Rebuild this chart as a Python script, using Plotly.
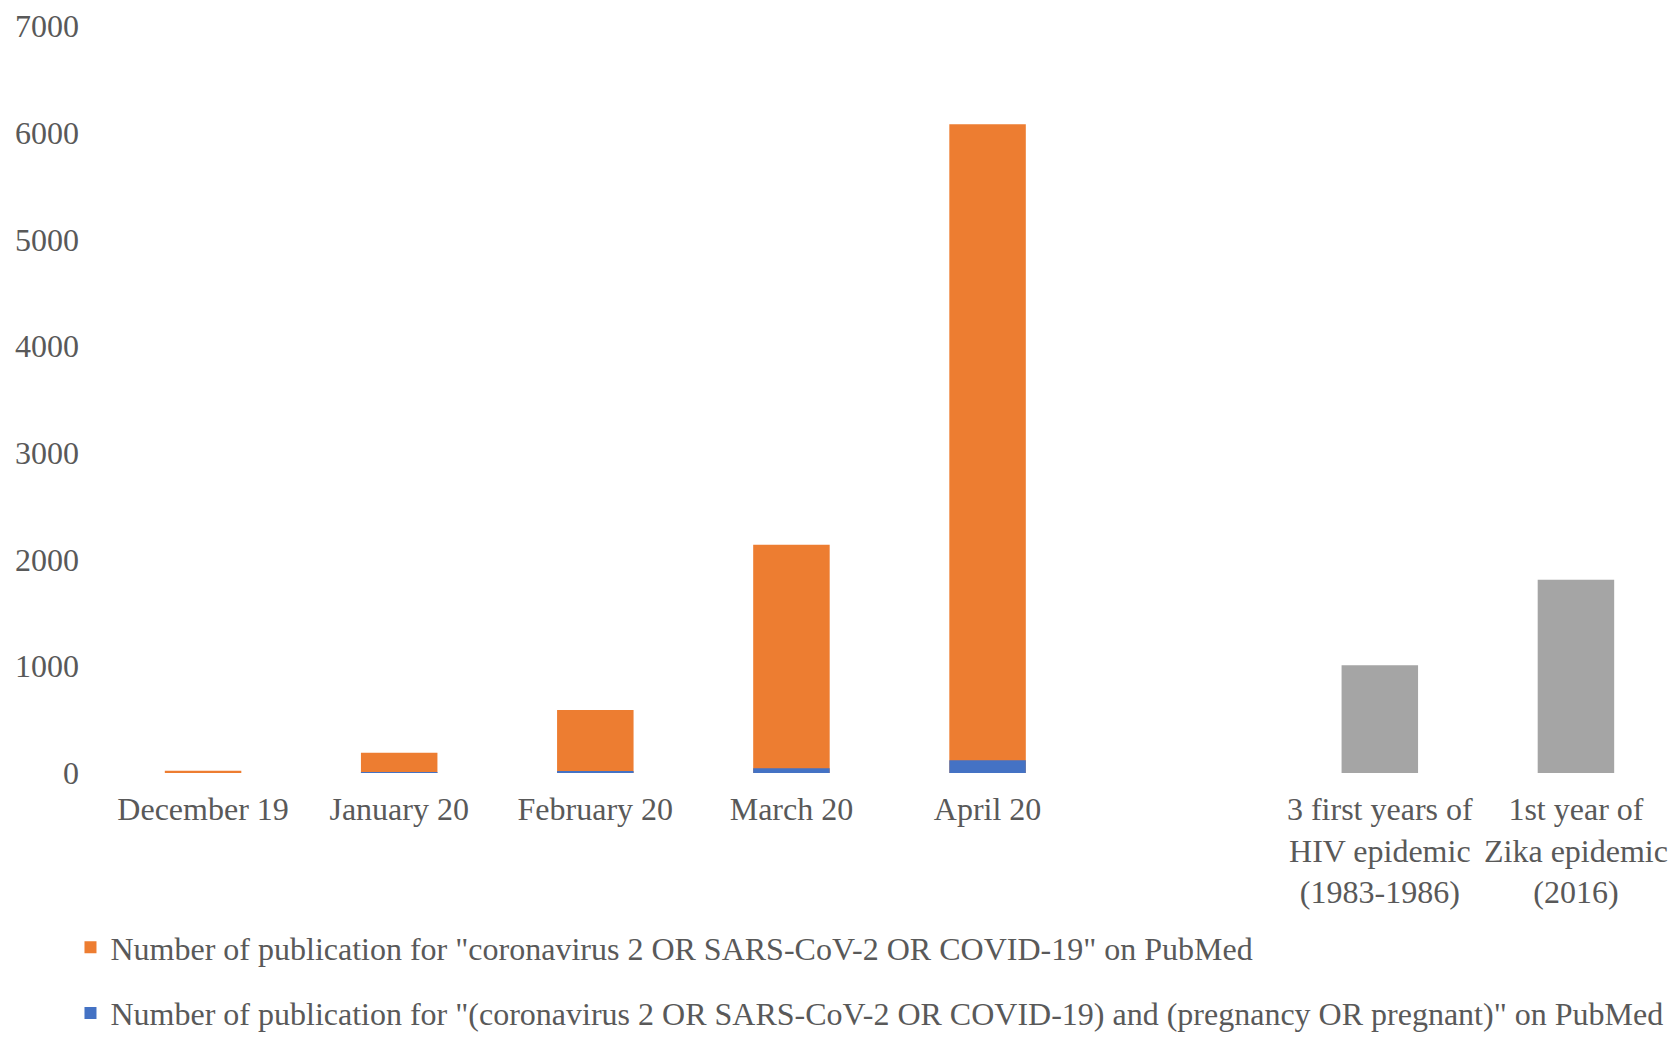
import plotly.graph_objects as go

categories = [
    "December 19", "January 20", "February 20", "March 20", "April 20", " ",
    "3 first years of<br>HIV epidemic<br>(1983-1986)",
    "1st year of<br>Zika epidemic<br>(2016)",
]
covid_cats = categories[:5]
covid_total = [22, 190, 590, 2140, 6080]
covid_pregnancy = [0, 1, 15, 45, 120]
other_cats = categories[6:]
other_values = [1010, 1810]

name_total = 'Number of publication for "coronavirus 2 OR SARS-CoV-2 OR COVID-19" on PubMed'
name_preg = ('Number of publication for "(coronavirus 2 OR SARS-CoV-2 OR COVID-19) and '
             '(pregnancy OR pregnant)" on PubMed')

FONT = "Liberation Serif, Times New Roman, serif"
TXT = "#595959"

fig = go.Figure()
fig.add_trace(go.Bar(x=covid_cats, y=covid_total, name=name_total, marker_color="#ED7D31",
                     width=0.39, legendgroup="a", marker_line_width=0))
fig.add_trace(go.Bar(x=covid_cats, y=covid_pregnancy, name=name_preg, marker_color="#4472C4",
                     width=0.39, legendgroup="b", marker_line_width=0))
fig.add_trace(go.Bar(x=other_cats, y=other_values, name="Other epidemics", marker_color="#A5A5A5",
                     width=0.39, showlegend=False, marker_line_width=0))

fig.update_layout(
    width=1674, height=1037,
    barmode="overlay",
    plot_bgcolor="white", paper_bgcolor="white",
    margin=dict(l=105, r=0, t=26, b=264, autoexpand=False),
    font=dict(family=FONT, size=32, color=TXT),
    legend=dict(orientation="v", x=-0.022, xanchor="left",
                yref="container", y=0.1128, yanchor="top",
                traceorder="grouped", tracegroupgap=21,
                font=dict(family=FONT, size=32, color=TXT)),
    bargap=0.6,
)
fig.update_xaxes(categoryorder="array", categoryarray=categories, range=[-0.5, 7.5],
                 showline=False, showgrid=False, zeroline=False, ticks="",
                 tickfont=dict(family=FONT, size=32, color=TXT), ticklabelstandoff=14)
fig.update_yaxes(range=[0, 7000], dtick=1000, showline=False, showgrid=False, zeroline=False,
                 ticks="", tickfont=dict(family=FONT, size=32, color=TXT),
                 ticklabelstandoff=25)

fig.write_html("out.html")
